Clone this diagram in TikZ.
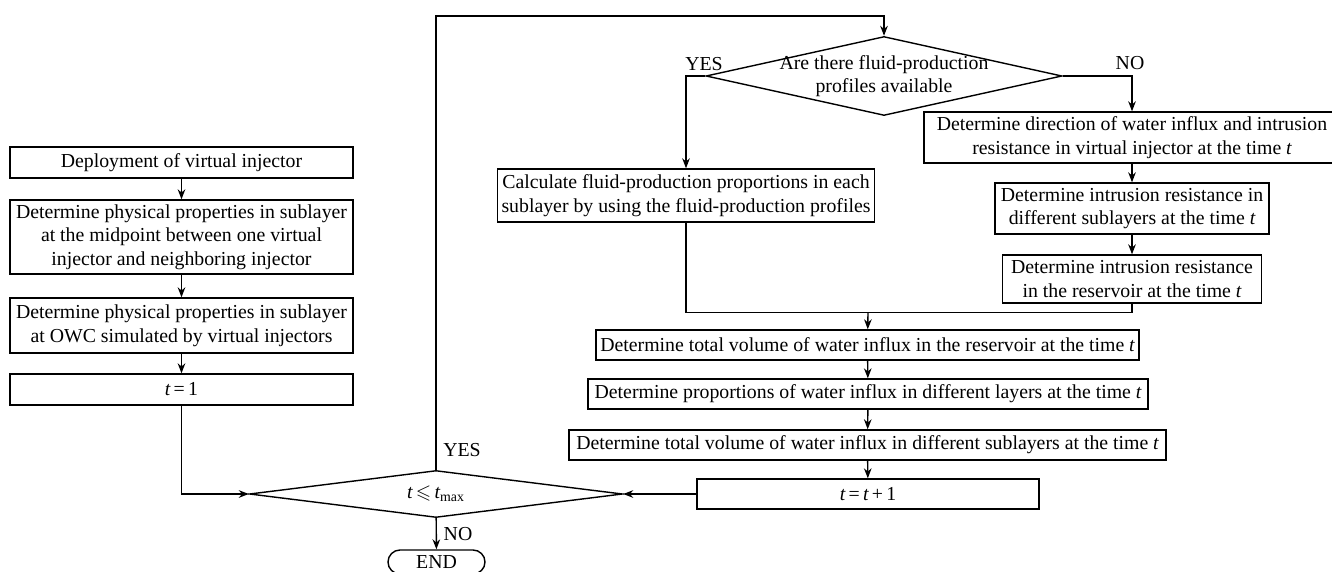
\documentclass[tikz,border=0pt]{standalone}
\usepackage{amssymb}
\usepackage{fontspec}
\setmainfont{Liberation Serif}
\usetikzlibrary{shapes.geometric,arrows.meta}

\begin{document}
\begin{tikzpicture}[x=0.5pt,y=-0.5pt,line width=0.7pt,>={Stealth[length=5pt,width=3.8pt]}]
  \tikzstyle{every node}=[font=\fontsize{9.9}{11.8}\selectfont]
  \tikzstyle{stepbox}=[draw,rectangle,align=center,inner sep=2pt]
  \tikzstyle{decide}=[draw,diamond,inner sep=0pt]
  \useasboundingbox (0,0) rectangle (1332,572);
  \clip (0,0) rectangle (1332,572);

  % left column
  \node[stepbox,minimum width=171.5pt,minimum height=15.5pt] (dep) at (181.5,162.5) {Deployment of virtual injector};
  \node[stepbox,minimum width=171.5pt,minimum height=37pt] (mid) at (181.5,237) {Determine physical properties in sublayer\\at the midpoint between one virtual\\injector and neighboring injector};
  \node[stepbox,minimum width=171.5pt,minimum height=27.5pt] (owc) at (181.5,325.5) {Determine physical properties in sublayer\\at OWC simulated by virtual injectors};
  \node[stepbox,minimum width=171.5pt,minimum height=15.5pt] (tone) at (181.5,389.5) {{\itshape t}\,=\,1};

  % loop test and end
  \node[decide,minimum width=186.5pt,minimum height=23.5pt,label={center:{\itshape t}\,$\leqslant$\,{\itshape t}\textsubscript{max}}] (tmax) at (436,494) {};
  \node[draw,rounded corners=6pt,minimum width=48.5pt,minimum height=12pt,inner sep=1pt] (stop) at (436.5,562) {END};

  % profiles test
  \node[decide,minimum width=178pt,minimum height=39.5pt,label={[align=center]center:Are there fluid-production\\profiles available}] (prof) at (884,76) {};
  \node[stepbox,minimum width=184pt,minimum height=26.5pt] (calc) at (686,195.5) {Calculate fluid-production proportions in each\\sublayer by using the fluid-production profiles};
  \node[stepbox,minimum width=208pt,minimum height=25.5pt] (dirbox) at (1132,137.5) {Determine direction of water influx and intrusion\\resistance in virtual injector at the time {\itshape t}};
  \node[stepbox,minimum width=137pt,minimum height=25.5pt] (intsub) at (1132,208.5) {Determine intrusion resistance in\\different sublayers at the time {\itshape t}};
  \node[stepbox,minimum width=129.5pt,minimum height=24pt] (intres) at (1132,279) {Determine intrusion resistance\\in the reservoir at the time {\itshape t}};

  % lower column
  \node[stepbox,minimum width=271.5pt,minimum height=15pt] (vres) at (867.5,345) {Determine total volume of water influx in the reservoir at the time {\itshape t}};
  \node[stepbox,minimum width=280pt,minimum height=15pt] (prop) at (868,394) {Determine proportions of water influx in different layers at the time {\itshape t}};
  \node[stepbox,minimum width=298.5pt,minimum height=15pt] (vsub) at (867.5,445) {Determine total volume of water influx in different sublayers at the time {\itshape t}};
  \node[stepbox,minimum width=171pt,minimum height=15pt] (inc) at (868,494) {{\itshape t}\,=\,{\itshape t}\,+\,1};

  % branch labels
  \node (yesa) at (704,64) {YES};
  \node (noa) at (1130,63) {NO};
  \node (yesb) at (462,450) {YES};
  \node (nob) at (458,534) {NO};

  \coordinate (loop) at (436,16);
  \coordinate (merge) at (868,312.5);

  \draw[->] (dep) -- (mid);
  \draw[->] (mid) -- (owc);
  \draw[->] (owc) -- (tone);
  \draw[->] (tone) |- (tmax);
  \draw[->] (tmax) -- (loop) -| (prof);
  \draw[->] (prof) -| (calc);
  \draw[->] (prof) -| (dirbox);
  \draw[->] (dirbox) -- (intsub);
  \draw[->] (intsub) -- (intres);
  \draw (calc.south) |- (merge) -| (intres.south);
  \draw[->] (merge) -- (vres);
  \draw[->] (vres) -- (prop);
  \draw[->] (prop) -- (vsub);
  \draw[->] (vsub) -- (inc);
  \draw[->] (inc) -- (tmax);
  \draw[->] (tmax) -- (stop);
\end{tikzpicture}
\end{document}
